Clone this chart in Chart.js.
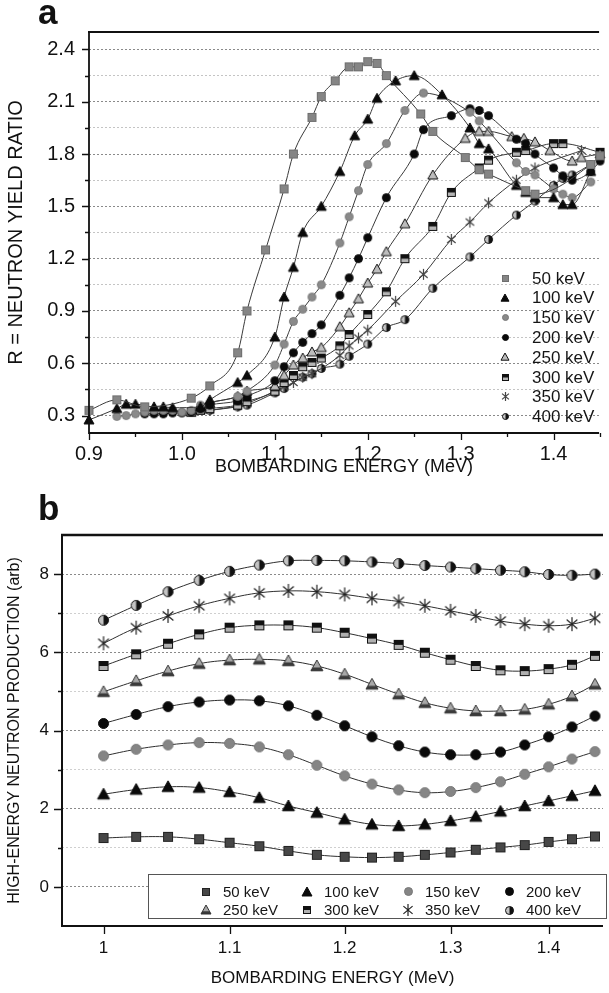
<!DOCTYPE html>
<html>
<head>
<meta charset="utf-8">
<script src="https://cdn.jsdelivr.net/npm/chart.js@4.4.1/dist/chart.umd.min.js"></script>
<style>
  html, body { margin: 0; padding: 0; background: #fff; }
  #wrap { position: relative; width: 609px; height: 993px; overflow: hidden; }
  #panelA { position: absolute; left: 0; top: 0; }
  #panelB { position: absolute; left: 0; top: 490px; }
</style>
</head>
<body>
<div id="wrap">
  <canvas id="panelA" width="609" height="490"></canvas>
  <canvas id="panelB" width="609" height="503"></canvas>
</div>
<script>
// ---- data, panel a: neutron yield ratio vs bombarding energy ----
const beamLabels = ['50 keV', '100 keV', '150 keV', '200 keV', '250 keV', '300 keV', '350 keV', '400 keV'];

const e50 = [0.90, 0.93, 0.96, 1.01, 1.03, 1.06, 1.07, 1.09, 1.11, 1.12, 1.14, 1.15, 1.165, 1.18, 1.19, 1.20, 1.21, 1.22, 1.257, 1.27, 1.305, 1.32, 1.33, 1.37, 1.38, 1.44, 1.45];
const r50 = [0.33, 0.39, 0.35, 0.40, 0.47, 0.66, 0.90, 1.25, 1.60, 1.80, 2.01, 2.13, 2.22, 2.30, 2.30, 2.33, 2.32, 2.25, 2.03, 1.93, 1.78, 1.71, 1.685, 1.59, 1.57, 1.74, 1.79];

const e100 = [0.90, 0.93, 0.94, 0.95, 0.97, 0.98, 0.99, 1.02, 1.03, 1.06, 1.07, 1.10, 1.11, 1.12, 1.13, 1.15, 1.17, 1.186, 1.20, 1.21, 1.23, 1.25, 1.28, 1.31, 1.32, 1.33, 1.36, 1.37, 1.38, 1.40, 1.41, 1.42, 1.44];
const r100 = [0.275, 0.34, 0.365, 0.365, 0.35, 0.35, 0.345, 0.35, 0.39, 0.49, 0.53, 0.75, 0.98, 1.15, 1.35, 1.50, 1.70, 1.905, 2.00, 2.12, 2.22, 2.25, 2.14, 1.95, 1.86, 1.83, 1.62, 1.58, 1.55, 1.55, 1.51, 1.51, 1.70];

const e150 = [0.93, 0.94, 0.95, 0.96, 0.97, 0.98, 0.99, 1.00, 1.01, 1.02, 1.06, 1.07, 1.10, 1.11, 1.12, 1.13, 1.14, 1.15, 1.17, 1.18, 1.19, 1.20, 1.22, 1.24, 1.26, 1.31, 1.32, 1.36, 1.37, 1.38, 1.40, 1.41, 1.42, 1.44];
const r150 = [0.295, 0.30, 0.31, 0.32, 0.33, 0.33, 0.33, 0.32, 0.33, 0.36, 0.41, 0.44, 0.59, 0.71, 0.84, 0.91, 0.98, 1.05, 1.29, 1.44, 1.59, 1.74, 1.86, 2.05, 2.15, 2.04, 1.99, 1.75, 1.70, 1.68, 1.60, 1.57, 1.55, 1.64];

const e200 = [0.96, 0.97, 0.98, 0.99, 1.00, 1.01, 1.02, 1.03, 1.06, 1.07, 1.10, 1.11, 1.12, 1.13, 1.14, 1.15, 1.17, 1.18, 1.19, 1.20, 1.22, 1.25, 1.26, 1.29, 1.31, 1.32, 1.33, 1.36, 1.37, 1.38, 1.40, 1.41, 1.42, 1.44, 1.45];
const r200 = [0.31, 0.31, 0.31, 0.315, 0.315, 0.32, 0.34, 0.36, 0.385, 0.41, 0.50, 0.58, 0.66, 0.72, 0.77, 0.82, 0.99, 1.09, 1.20, 1.32, 1.55, 1.80, 1.94, 2.02, 2.06, 2.05, 2.02, 1.885, 1.86, 1.80, 1.72, 1.675, 1.65, 1.70, 1.76];

const e250 = [1.01, 1.02, 1.03, 1.06, 1.07, 1.10, 1.11, 1.12, 1.13, 1.14, 1.15, 1.17, 1.18, 1.19, 1.20, 1.21, 1.22, 1.24, 1.27, 1.305, 1.32, 1.33, 1.355, 1.368, 1.38, 1.396, 1.42, 1.43, 1.45];
const r250 = [0.32, 0.34, 0.37, 0.41, 0.44, 0.47, 0.53, 0.59, 0.63, 0.665, 0.69, 0.81, 0.89, 0.97, 1.06, 1.14, 1.24, 1.40, 1.68, 1.89, 1.93, 1.93, 1.90, 1.89, 1.87, 1.82, 1.76, 1.78, 1.80];

const e300 = [1.01, 1.02, 1.03, 1.06, 1.07, 1.10, 1.11, 1.12, 1.13, 1.14, 1.15, 1.17, 1.18, 1.20, 1.22, 1.24, 1.27, 1.29, 1.32, 1.33, 1.36, 1.37, 1.40, 1.41, 1.45];
const r300 = [0.32, 0.33, 0.34, 0.36, 0.38, 0.44, 0.49, 0.53, 0.58, 0.605, 0.63, 0.70, 0.765, 0.88, 1.01, 1.20, 1.385, 1.58, 1.72, 1.765, 1.81, 1.82, 1.86, 1.86, 1.81];

const e350 = [1.03, 1.06, 1.07, 1.10, 1.11, 1.12, 1.13, 1.14, 1.17, 1.18, 1.19, 1.20, 1.23, 1.26, 1.29, 1.31, 1.33, 1.36, 1.38, 1.43];
const r350 = [0.33, 0.355, 0.37, 0.44, 0.465, 0.49, 0.52, 0.54, 0.645, 0.70, 0.745, 0.79, 0.955, 1.11, 1.31, 1.41, 1.52, 1.65, 1.72, 1.82];

const e400 = [1.03, 1.06, 1.07, 1.10, 1.11, 1.13, 1.14, 1.15, 1.17, 1.18, 1.20, 1.22, 1.24, 1.27, 1.31, 1.33, 1.36, 1.38, 1.40, 1.41, 1.42, 1.44];
const r400 = [0.33, 0.35, 0.36, 0.43, 0.455, 0.52, 0.54, 0.57, 0.595, 0.64, 0.71, 0.805, 0.85, 1.03, 1.21, 1.31, 1.45, 1.53, 1.62, 1.66, 1.68, 1.74];

const ticksAx = [0.9, 0.95, 1.0, 1.05, 1.1, 1.15, 1.2, 1.25, 1.3, 1.35, 1.4, 1.45];
const ticksAy = [0.3, 0.45, 0.6, 0.75, 0.9, 1.05, 1.2, 1.35, 1.5, 1.65, 1.8, 1.95, 2.1, 2.25, 2.4];

// ---- data, panel b: high-energy neutron production ----
const energyB = [1, 1.025, 1.05, 1.075, 1.1, 1.125, 1.15, 1.175, 1.2, 1.225, 1.25, 1.275, 1.3, 1.325, 1.35, 1.375, 1.4, 1.425, 1.45];
const p50 = [1.25, 1.28, 1.28, 1.22, 1.13, 1.04, 0.92, 0.82, 0.77, 0.75, 0.77, 0.82, 0.88, 0.95, 1.01, 1.07, 1.15, 1.22, 1.29];
const p100 = [2.37, 2.49, 2.56, 2.54, 2.43, 2.28, 2.07, 1.90, 1.73, 1.60, 1.56, 1.60, 1.69, 1.80, 1.93, 2.07, 2.20, 2.33, 2.46];
const p150 = [3.35, 3.52, 3.63, 3.69, 3.67, 3.58, 3.38, 3.11, 2.84, 2.63, 2.48, 2.41, 2.44, 2.54, 2.69, 2.88, 3.07, 3.27, 3.46];
const p200 = [4.18, 4.41, 4.61, 4.73, 4.78, 4.76, 4.63, 4.39, 4.12, 3.84, 3.61, 3.45, 3.38, 3.38, 3.45, 3.63, 3.84, 4.09, 4.37];
const p250 = [4.99, 5.27, 5.52, 5.71, 5.80, 5.82, 5.78, 5.65, 5.44, 5.18, 4.93, 4.71, 4.57, 4.50, 4.50, 4.54, 4.67, 4.88, 5.18];
const p300 = [5.65, 5.95, 6.22, 6.46, 6.63, 6.69, 6.69, 6.63, 6.50, 6.35, 6.19, 5.99, 5.81, 5.65, 5.54, 5.52, 5.57, 5.68, 5.91];
const p350 = [6.23, 6.63, 6.93, 7.19, 7.38, 7.52, 7.57, 7.55, 7.48, 7.38, 7.30, 7.19, 7.06, 6.93, 6.80, 6.72, 6.68, 6.72, 6.87];
const p400 = [6.82, 7.20, 7.55, 7.84, 8.07, 8.23, 8.34, 8.35, 8.34, 8.31, 8.27, 8.22, 8.18, 8.14, 8.10, 8.06, 7.99, 7.97, 8.00];

const ticksBx = [1, 1.1, 1.2, 1.3, 1.4];
const ticksBy = [0, 1, 2, 3, 4, 5, 6, 7, 8];

const FONT = '"Liberation Sans", Arial, sans-serif';

// small canvases used as point symbols
function makeMarker(kind, size, fill, edge) {
    const c = document.createElement('canvas');
    c.width = c.height = Math.ceil(size) + 4;
    const g = c.getContext('2d');
    const m = c.width / 2, h = size / 2;
    g.lineWidth = 1;
    g.fillStyle = fill;
    g.strokeStyle = edge;

    if (kind === 'square' || kind === 'halfSquare') {
        g.fillRect(m - h, m - h, size, size);
        if (kind === 'halfSquare') {
            g.fillStyle = '#111';
            g.fillRect(m - h, m - h, size, size / 2);
        }
        g.strokeRect(m - h + 0.5, m - h + 0.5, size - 1, size - 1);
    } else if (kind === 'triangle' || kind === 'bandTriangle') {
        g.beginPath();
        g.moveTo(m, m - h);
        g.lineTo(m + h, m + h * 0.8);
        g.lineTo(m - h, m + h * 0.8);
        g.closePath();
        g.fill();
        if (kind === 'bandTriangle') {
            g.save();
            g.clip();
            g.fillStyle = '#3a3a3a';
            g.fillRect(0, m + h * 0.25, c.width, c.height);
            g.restore();
        }
        g.stroke();
    } else if (kind === 'circle' || kind === 'halfCircle') {
        g.beginPath();
        g.arc(m, m, h - 0.5, 0, Math.PI * 2);
        g.fill();
        if (kind === 'halfCircle') {
            g.fillStyle = '#111';
            g.beginPath();
            g.arc(m, m, h - 0.5, -Math.PI / 2, Math.PI / 2);
            g.closePath();
            g.fill();
        }
        g.beginPath();
        g.arc(m, m, h - 0.5, 0, Math.PI * 2);
        g.stroke();
    } else if (kind === 'asterisk') {
        g.lineWidth = 1.2;
        g.beginPath();
        [90, 40, 140].forEach(deg => {
            const a = deg * Math.PI / 180;
            g.moveTo(m - Math.cos(a) * h, m - Math.sin(a) * h);
            g.lineTo(m + Math.cos(a) * h, m + Math.sin(a) * h);
        });
        g.stroke();
    }
    return c;
}

function symbolsA(s) {
    return [
        makeMarker('square', s, '#858585', '#6e6e6e'),
        makeMarker('triangle', s + 1, '#0a0a0a', '#0a0a0a'),
        makeMarker('circle', s, '#8a8a8a', '#787878'),
        makeMarker('circle', s, '#0a0a0a', '#0a0a0a'),
        makeMarker('triangle', s + 1, '#bdbdbd', '#111'),
        makeMarker('halfSquare', s, '#b5b5b5', '#111'),
        makeMarker('asterisk', s + 2, '#000', '#444'),
        makeMarker('halfCircle', s, '#c4c4c4', '#111')
    ];
}

function symbolsB(s) {
    return [
        makeMarker('square', s - 1, '#474747', '#222'),
        makeMarker('triangle', s + 1, '#0a0a0a', '#0a0a0a'),
        makeMarker('circle', s, '#858585', '#777'),
        makeMarker('circle', s, '#0a0a0a', '#0a0a0a'),
        makeMarker('bandTriangle', s + 1, '#a8a8a8', '#333'),
        makeMarker('halfSquare', s - 1, '#b0b0b0', '#111'),
        makeMarker('asterisk', s + 3, '#000', '#222'),
        makeMarker('halfCircle', s, '#c4c4c4', '#111')
    ];
}

// axes frame, outward tick marks and panel letter
const frame = {
    id: 'frame',
    afterDraw(chart, args, o) {
        const { ctx, chartArea: a, scales: { x, y } } = chart;
        ctx.save();
        ctx.strokeStyle = '#111';
        ctx.lineWidth = o.topWidth;
        ctx.beginPath();
        ctx.moveTo(a.left - 1, a.top);
        ctx.lineTo(a.right, a.top);
        ctx.stroke();
        ctx.lineWidth = o.axisWidth;
        ctx.beginPath();
        ctx.moveTo(a.left, a.top);
        ctx.lineTo(a.left, a.bottom);
        ctx.lineTo(a.right, a.bottom);
        ctx.stroke();

        ctx.lineWidth = 1.3;
        ctx.beginPath();
        x.ticks.forEach(t => {
            const p = Math.round(x.getPixelForValue(t.value)) + 0.5;
            ctx.moveTo(p, a.bottom);
            ctx.lineTo(p, a.bottom + (t.label ? o.major : o.minor));
        });
        y.ticks.forEach(t => {
            const p = Math.round(y.getPixelForValue(t.value)) + 0.5;
            ctx.moveTo(a.left, p);
            ctx.lineTo(a.left - (t.label ? o.major : o.minor), p);
        });
        ctx.stroke();

        ctx.fillStyle = '#111';
        ctx.font = 'bold 35px ' + FONT;
        ctx.textBaseline = 'alphabetic';
        ctx.fillText(o.letter, o.letterX, o.letterY);
        ctx.restore();
    }
};

// legend drawn inside the plot area
const insideLegend = {
    id: 'insideLegend',
    afterDraw(chart, args, o) {
        const ctx = chart.ctx;
        ctx.save();
        if (o.box) {
            ctx.fillStyle = '#fff';
            ctx.fillRect(o.box[0], o.box[1], o.box[2], o.box[3]);
            ctx.strokeStyle = '#555';
            ctx.lineWidth = 1;
            ctx.strokeRect(o.box[0] + 0.5, o.box[1] + 0.5, o.box[2], o.box[3]);
        }
        ctx.font = o.font + ' ' + FONT;
        ctx.fillStyle = '#151515';
        ctx.textBaseline = 'middle';
        o.labels.forEach((label, i) => {
            const col = i % o.cols, row = Math.floor(i / o.cols);
            const cx = o.x + col * o.colStep, cy = o.y + row * o.rowStep;
            const img = o.symbols[i];
            ctx.drawImage(img, Math.round(cx - img.width / 2), Math.round(cy - img.height / 2));
            ctx.fillText(label, cx + o.gap, cy + 1);
        });
        ctx.restore();
    }
};

function isMajor(v, step) {
    const k = v / step;
    return Math.abs(k - Math.round(k)) < 1e-6;
}

// ---------------- panel a ----------------
function initPanelA() {
    const symbols = symbolsA(9);
    const legendSymbols = symbolsA(7);
    const xs = [e50, e100, e150, e200, e250, e300, e350, e400];
    const ys = [r50, r100, r150, r200, r250, r300, r350, r400];

    const datasets = beamLabels.map((label, i) => ({
        label: label,
        data: xs[i].map((x, j) => ({ x: x, y: ys[i][j] })),
        showLine: true,
        borderColor: '#3a3a3a',
        borderWidth: 1,
        cubicInterpolationMode: 'monotone',
        pointStyle: symbols[i],
        pointRadius: 4,
        clip: false
    }));

    new Chart(document.getElementById('panelA'), {
        type: 'scatter',
        data: { datasets: datasets },
        options: {
            responsive: false,
            animation: false,
            layout: { padding: { top: 32, left: 0, right: 0, bottom: 0 } },
            plugins: {
                legend: { display: false },
                tooltip: { enabled: false },
                frame: { topWidth: 1.8, axisWidth: 1.8, major: 7, minor: 4, letter: 'a', letterX: 38, letterY: 24 },
                insideLegend: {
                    labels: beamLabels, symbols: legendSymbols, font: '17px',
                    x: 505, y: 278, cols: 1, colStep: 0, rowStep: 19.8, gap: 27
                }
            },
            scales: {
                x: {
                    type: 'linear',
                    min: 0.9,
                    max: 1.449,
                    afterBuildTicks: s => { s.ticks = ticksAx.map(v => ({ value: v })); },
                    afterFit: s => { s.height = 57; },
                    grid: { drawOnChartArea: false, drawTicks: false },
                    border: { display: false },
                    ticks: {
                        autoSkip: false, maxRotation: 0, padding: 9,
                        color: '#111', font: { family: FONT, size: 20 },
                        callback: v => isMajor(v, 0.1) ? v.toFixed(1) : ''
                    },
                    title: {
                        display: true, text: 'BOMBARDING ENERGY (MeV)', color: '#111',
                        font: { family: FONT, size: 18 }, padding: { top: 0, bottom: 12 }
                    }
                },
                y: {
                    min: 0.2,
                    max: 2.5,
                    afterBuildTicks: s => { s.ticks = ticksAy.map(v => ({ value: v })); },
                    afterFit: s => { s.width = 89; },
                    grid: {
                        drawTicks: false,
                        color: c => isMajor(c.tick.value, 0.3) ? '#8a8a8a' : '#c4c4c4',
                        lineWidth: 1
                    },
                    border: { display: false, dash: [2, 2] },
                    ticks: {
                        autoSkip: false, padding: 14,
                        color: '#111', font: { family: FONT, size: 20 },
                        callback: v => isMajor(v, 0.3) ? v.toFixed(1) : ''
                    },
                    title: {
                        display: true, text: 'R = NEUTRON YIELD RATIO', color: '#111',
                        font: { family: FONT, size: 20 }, padding: { top: 4, bottom: 0 }
                    }
                }
            }
        },
        plugins: [frame, insideLegend]
    });
}

// ---------------- panel b ----------------
function initPanelB() {
    const symbols = symbolsB(11);
    const legendSymbols = symbolsB(9);
    const ys = [p50, p100, p150, p200, p250, p300, p350, p400];

    const datasets = beamLabels.map((label, i) => ({
        label: label,
        data: energyB.map((x, j) => ({ x: x, y: ys[i][j] })),
        showLine: true,
        borderColor: '#2e2e2e',
        borderWidth: 1,
        tension: 0.4,
        pointStyle: symbols[i],
        pointRadius: 5,
        clip: false
    }));

    new Chart(document.getElementById('panelB'), {
        type: 'scatter',
        data: { datasets: datasets },
        options: {
            responsive: false,
            animation: false,
            layout: { padding: { top: 45, left: 0, right: 0, bottom: 0 } },
            plugins: {
                legend: { display: false },
                tooltip: { enabled: false },
                frame: { topWidth: 2.6, axisWidth: 2, major: 8, minor: 4, letter: 'b', letterX: 38, letterY: 30 },
                insideLegend: {
                    box: [148, 384, 458, 44],
                    labels: beamLabels, symbols: legendSymbols, font: '15px',
                    x: 206, y: 401.5, cols: 4, colStep: 101, rowStep: 18.5, gap: 17
                }
            },
            scales: {
                x: {
                    type: 'logarithmic',
                    bounds: 'data',
                    min: 0.9691,
                    max: 1.4588,
                    afterBuildTicks: s => { s.ticks = ticksBx.map(v => ({ value: v })); },
                    afterFit: s => { s.height = 67; },
                    grid: { drawOnChartArea: false, drawTicks: false },
                    border: { display: false },
                    ticks: {
                        autoSkip: false, maxRotation: 0, padding: 12,
                        color: '#111', font: { family: FONT, size: 17 },
                        callback: v => String(v)
                    },
                    title: {
                        display: true, text: 'BOMBARDING ENERGY (MeV)', color: '#111',
                        font: { family: FONT, size: 17 }, padding: { top: 0, bottom: 4 }
                    }
                },
                y: {
                    min: -1,
                    max: 9,
                    afterBuildTicks: s => { s.ticks = ticksBy.map(v => ({ value: v })); },
                    afterFit: s => { s.width = 62; },
                    grid: {
                        drawTicks: false,
                        color: c => c.tick.value % 2 === 0 ? '#8a8a8a' : '#cfcfcf',
                        lineWidth: 1
                    },
                    border: { display: false, dash: [2, 2] },
                    ticks: {
                        autoSkip: false, padding: 13,
                        color: '#111', font: { family: FONT, size: 17 },
                        callback: v => v % 2 === 0 ? String(v) : ''
                    },
                    title: {
                        display: true, text: 'HIGH-ENERGY NEUTRON PRODUCTION (arb)', color: '#111',
                        font: { family: FONT, size: 16 }, padding: { top: 5, bottom: 0 }
                    }
                }
            }
        },
        plugins: [frame, insideLegend]
    });
}

document.addEventListener('DOMContentLoaded', () => {
    initPanelA();
    initPanelB();
});
</script>
</body>
</html>
